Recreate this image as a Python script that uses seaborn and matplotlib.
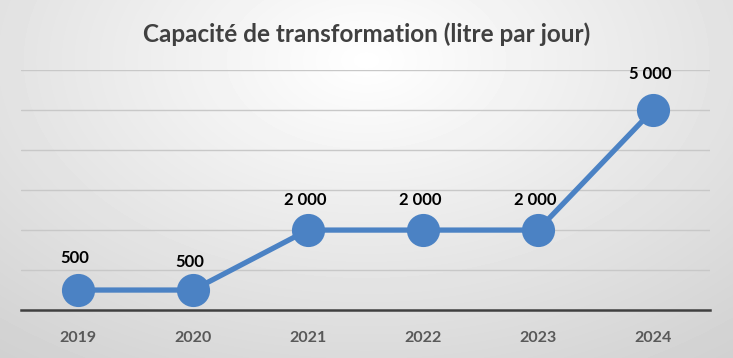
import numpy as np
import matplotlib
matplotlib.use("Agg")
import matplotlib.pyplot as plt
import pandas as pd
import seaborn as sns

# Data
years = ["2019", "2020", "2021", "2022", "2023", "2024"]
capacity = [500, 500, 2000, 2000, 2000, 5000]
labels = ["500", "500", "2 000", "2 000", "2 000", "5 000"]

df = pd.DataFrame({"year": years, "capacity": capacity})

sns.set_style("white")
plt.rcParams["font.family"] = ["Lato", "DejaVu Sans"]

fig = plt.figure(figsize=(7.33, 3.58), dpi=100)

# Radial grey background
bg = fig.add_axes([0, 0, 1, 1], zorder=-10)
yy, xx = np.mgrid[0:358, 0:733]
r = np.sqrt(((xx - 366) / 520.0) ** 2 + ((yy - 60) / 330.0) ** 2)
shade = np.clip(1.0 - 0.16 * r, 0.82, 1.0)
bg.imshow(shade, cmap="gray", vmin=0, vmax=1, aspect="auto", extent=[0, 1, 0, 1])
bg.set_axis_off()

ax = fig.add_axes([0.028, 0.134, 0.941, 0.670])
ax.patch.set_alpha(0)

sns.pointplot(data=df, x="year", y="capacity", ax=ax, color="#4b82c4",
              markersize=21, linewidth=3.8, errorbar=None)
for line in ax.lines:
    line.set_solid_capstyle("round")

ax.set_ylim(0, 6000)
ax.set_xlim(-0.5, len(years) - 0.5)
ax.set_yticks(range(1000, 7000, 1000))
ax.yaxis.grid(True, color="#c8c8c8", linewidth=1)
ax.set_axisbelow(True)
ax.set_yticklabels([])
ax.tick_params(axis="y", length=0)
ax.tick_params(axis="x", length=0, pad=15, labelsize=11.5, labelcolor="#595959")
for t in ax.get_xticklabels():
    t.set_fontweight("bold")
ax.set_xlabel("")
ax.set_ylabel("")
for s in ["top", "right", "left"]:
    ax.spines[s].set_visible(False)
ax.spines["bottom"].set_color("#404040")
ax.spines["bottom"].set_linewidth(1.8)

offsets = [23, 20, 22, 22, 22, 26]
for i, (v, lab, off) in enumerate(zip(capacity, labels, offsets)):
    ax.annotate(lab, (i, v), xytext=(-2, off), textcoords="offset points",
                ha="center", va="center", fontsize=12, fontweight="bold",
                color="black")

fig.text(0.5, 0.905, "Capacité de transformation (litre par jour)",
         ha="center", va="center", fontsize=17.5, fontweight="bold",
         color="#404040")

fig.savefig("out.png", dpi=100)
